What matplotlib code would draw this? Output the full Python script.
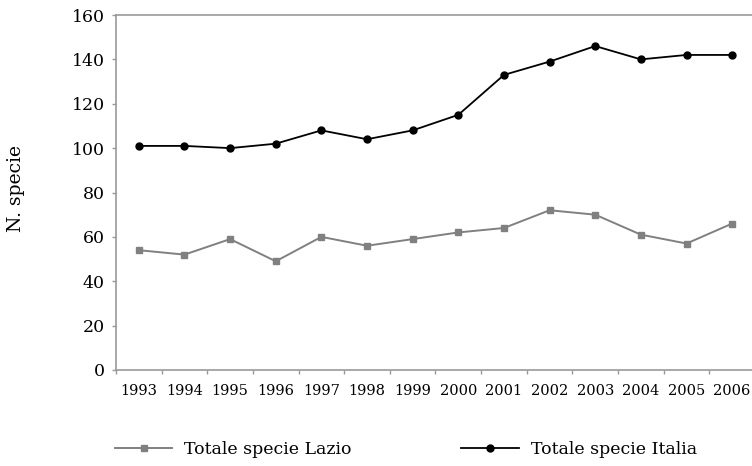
import matplotlib
matplotlib.use("Agg")
import matplotlib.pyplot as plt
from matplotlib.ticker import FixedLocator, NullFormatter, FixedFormatter

years = ["1993", "1994", "1995", "1996", "1997", "1998", "1999",
         "2000", "2001", "2002", "2003", "2004", "2005", "2006"]
lazio = [54, 52, 59, 49, 60, 56, 59, 62, 64, 72, 70, 61, 57, 66]
italia = [101, 101, 100, 102, 108, 104, 108, 115, 133, 139, 146, 140, 142, 142]
yticks = [0, 20, 40, 60, 80, 100, 120, 140, 160]

plt.rcParams['font.family'] = ['DejaVu Serif']

W, H = 752, 466
fig = plt.figure(figsize=(W / 100, H / 100), dpi=100)
ax = fig.add_axes([116 / W, (H - 370) / H, (755 - 116) / W, (370 - 15) / H])

x = list(range(len(years)))
l1, = ax.plot(x, lazio, color='#808080', lw=1.4, marker='s', markersize=5,
              markeredgecolor='#808080', label='Totale specie Lazio')
l2, = ax.plot(x, italia, color='#000000', lw=1.3, marker='o', markersize=5,
              label='Totale specie Italia')

ax.set_xlim(-0.5, len(years) - 0.5)
ax.set_ylim(0, 160)
ax.set_yticks(yticks)
ax.set_yticklabels([str(v) for v in yticks], fontsize=12.5)

ax.xaxis.set_major_locator(FixedLocator([i + 0.5 for i in range(len(years) - 1)] + [-0.5]))
ax.xaxis.set_major_formatter(NullFormatter())
ax.xaxis.set_minor_locator(FixedLocator(x))
ax.xaxis.set_minor_formatter(FixedFormatter(years))
ax.tick_params(axis='x', which='minor', length=0, labelsize=10.5, pad=10)
ax.tick_params(axis='x', which='major', length=3, color='#999999', width=1)
ax.tick_params(axis='y', length=3, color='#999999', width=1, pad=5)

for s in ['left', 'bottom', 'top']:
    ax.spines[s].set_color('#9a9a9a')
    ax.spines[s].set_linewidth(1.2)
ax.spines['right'].set_visible(False)

fig.text(16 / W, (H - 188) / H, 'N. specie', rotation=90, fontsize=13.5,
         ha='center', va='center')

fig.legend(handles=[l1, l2], loc='center left', bbox_to_anchor=(115 / W, (H - 450) / H),
           ncol=2, frameon=False, fontsize=12.5, handlelength=3.3,
           handletextpad=0.7, columnspacing=6.3, borderpad=0, borderaxespad=0)

fig.savefig('out.png', dpi=100)
